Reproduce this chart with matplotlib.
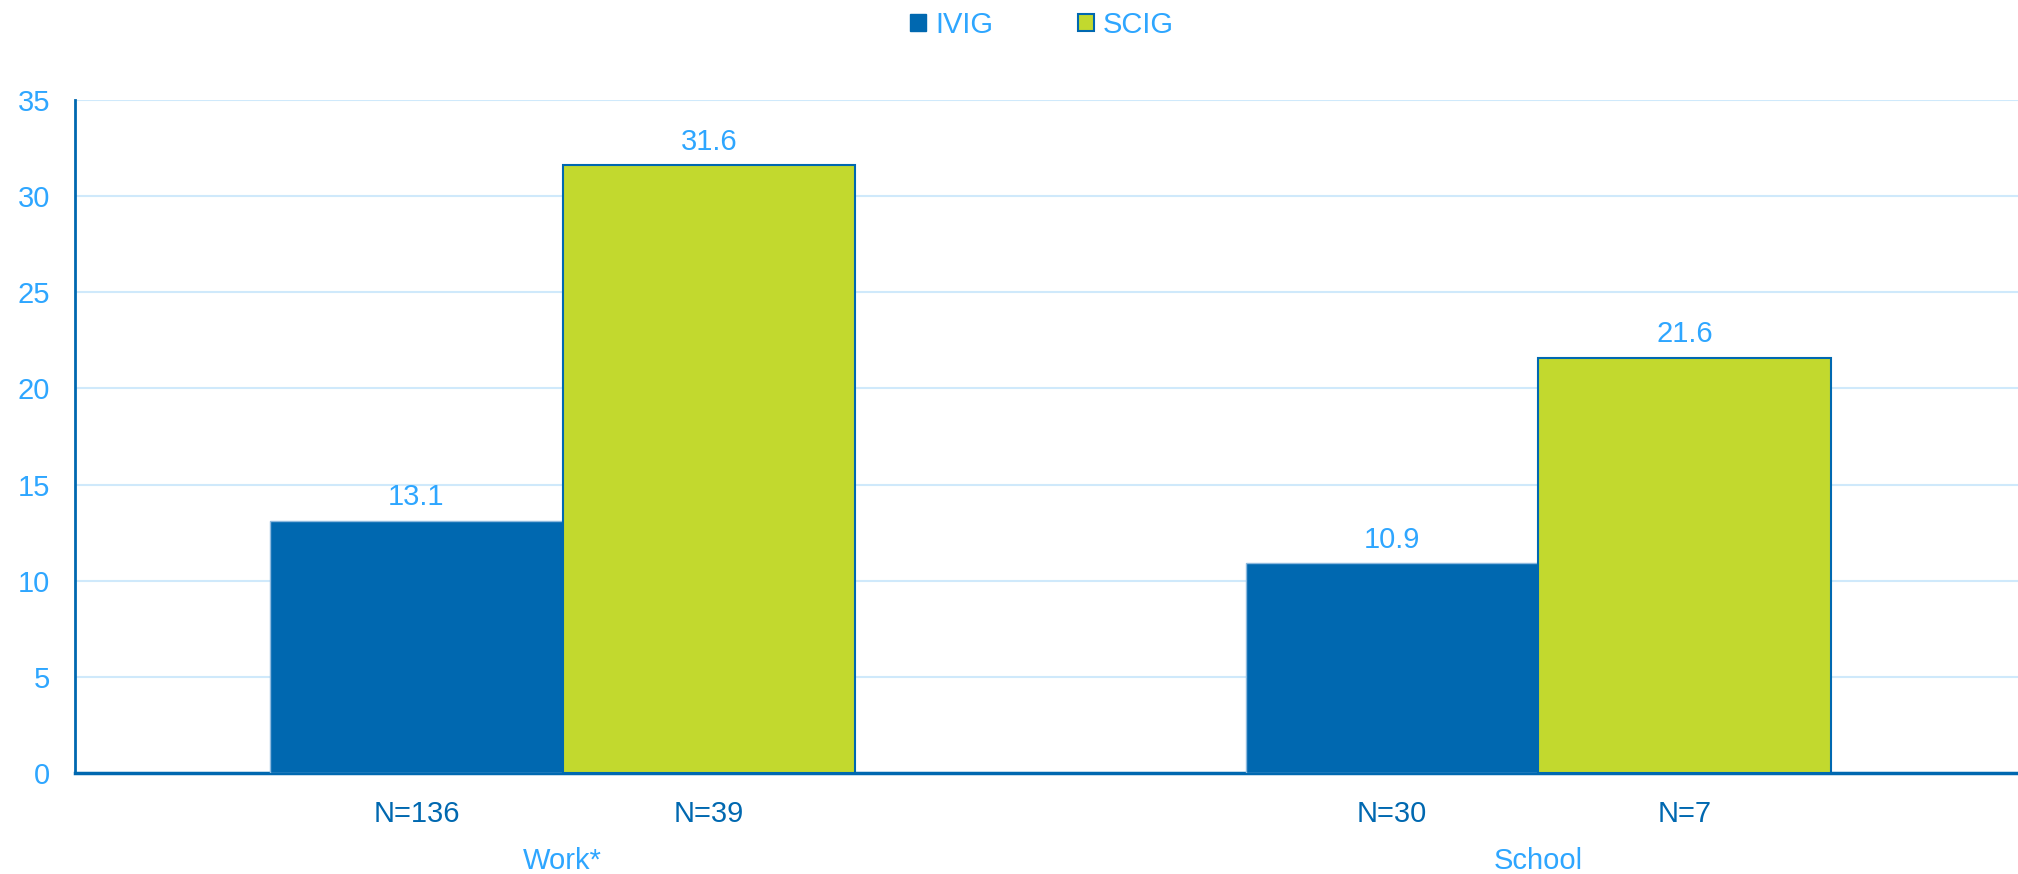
import matplotlib
matplotlib.use("Agg")
import matplotlib.pyplot as plt
import numpy as np
from matplotlib.patches import Patch

plt.rcParams['font.family'] = ['Liberation Sans', 'DejaVu Sans']

categories = ["Work*", "School"]
series_names = ["IVIG", "SCIG"]
ivig = [13.1, 10.9]
scig = [31.6, 21.6]
n_ivig = ["N=136", "N=30"]
n_scig = ["N=39", "N=7"]
yticks = [0, 5, 10, 15, 20, 25, 30, 35]

c_ivig = "#0068B0"
c_scig = "#C2D92E"
c_edge = "#0068B0"
c_light = "#2EA6FF"
c_grid = "#CFE9FB"

fig = plt.figure(figsize=(20.18, 8.74), dpi=100)
ax = fig.add_axes([75/2018, 1-773/874, 1951/2018, (773-100)/874])

x = np.arange(len(categories))
w = 0.3
b1 = ax.bar(x - w/2, ivig, w, color=c_ivig, edgecolor="#8DB9DE", linewidth=1, zorder=3)
b2 = ax.bar(x + w/2, scig, w, color=c_scig, edgecolor=c_edge, linewidth=1.5, zorder=3)

for bars, vals in ((b1, ivig), (b2, scig)):
    for r, v in zip(bars, vals):
        ax.annotate(f"{v:.1f}", (r.get_x() + r.get_width()/2, v), xytext=(0, 7),
                    textcoords="offset points", ha="center", va="bottom",
                    fontsize=21, color=c_light)

ax.set_xlim(-0.5, len(categories) - 0.5)
ax.set_ylim(0, 35)
ax.set_yticks(yticks)
ax.set_yticklabels([str(t) for t in yticks])
ax.tick_params(axis='y', length=0, pad=18, labelsize=21, labelcolor=c_light)
ax.tick_params(axis='x', length=0, labelbottom=False)
ax.yaxis.grid(True, color=c_grid, linewidth=1.5, zorder=0)
ax.set_axisbelow(True)
for s in ("top", "right"):
    ax.spines[s].set_visible(False)
ax.spines["left"].set_color(c_edge)
ax.spines["left"].set_linewidth(2)
ax.spines["bottom"].set_color(c_edge)
ax.spines["bottom"].set_linewidth(2.5)

trans = ax.get_xaxis_transform()
for i in range(len(categories)):
    ax.text(x[i] - w/2, -41/673, n_ivig[i], transform=trans, ha="center", va="center",
            fontsize=21, color=c_ivig)
    ax.text(x[i] + w/2, -41/673, n_scig[i], transform=trans, ha="center", va="center",
            fontsize=21, color=c_ivig)
    ax.text(x[i], -88/673, categories[i], transform=trans, ha="center", va="center",
            fontsize=21, color=c_light)

handles = [Patch(facecolor=c_ivig, edgecolor=c_ivig, label=series_names[0]),
           Patch(facecolor=c_scig, edgecolor=c_edge, linewidth=1.5, label=series_names[1])]
leg = fig.legend(handles=handles, loc="center", bbox_to_anchor=(1042/2018, 1-25/874), ncol=2,
                 frameon=False, fontsize=21, handlelength=0.55, handleheight=0.55,
                 handletextpad=0.3, columnspacing=2.9)
for t in leg.get_texts():
    t.set_color(c_light)

fig.savefig("out.png", dpi=100)
